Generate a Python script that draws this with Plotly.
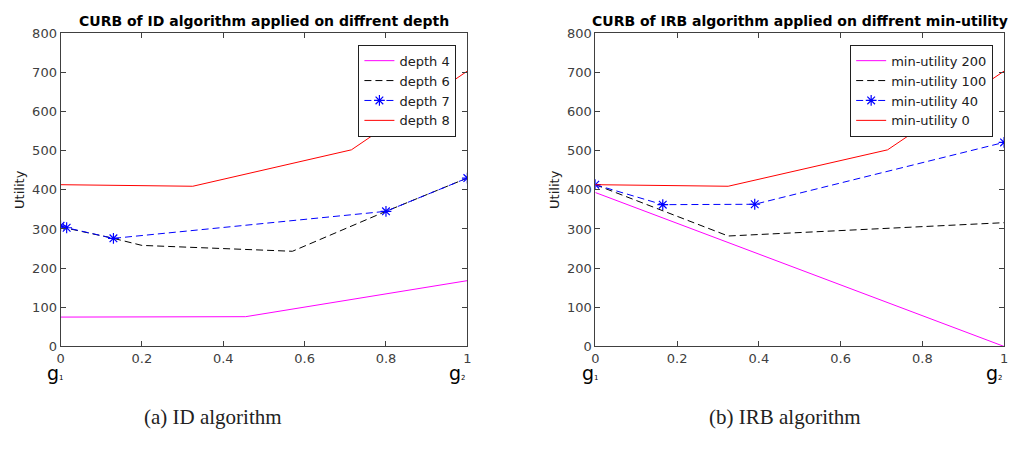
import plotly.graph_objects as go

# Left panel: ID algorithm
d4_x = [0, 0.455, 1]
d4_y = [75, 76, 168]
d6_x = [0, 0.015, 0.13, 0.2, 0.57, 0.8, 1]
d6_y = [308, 302, 276, 258, 243, 345, 430]
d7_x = [0, 0.015, 0.13, 0.8, 1]
d7_y = [308, 303, 276, 345, 430]
d8_x = [0, 0.325, 0.715, 1]
d8_y = [413, 409, 502, 703]

# Right panel: IRB algorithm
m200_x = [0, 1]
m200_y = [393, 0]
m100_x = [0, 0.325, 1]
m100_y = [413, 282, 316]
m40_x = [0, 0.165, 0.39, 1]
m40_y = [413, 362, 363, 521]
m0_x = [0, 0.325, 0.715, 1]
m0_y = [413, 409, 502, 703]

left_names = ["depth 4", "depth 6", "depth 7", "depth 8"]
right_names = ["min-utility 200", "min-utility 100", "min-utility 40", "min-utility 0"]
titles = ["CURB of ID algorithm applied on diffrent depth",
          "CURB of IRB algorithm applied on diffrent min-utility"]
captions = ["(a) ID algorithm", "(b) IRB algorithm"]
yticks = [0, 100, 200, 300, 400, 500, 600, 700, 800]
xticks = [0, 0.2, 0.4, 0.6, 0.8, 1]
xticklabels = ["0", "0.2", "0.4", "0.6", "0.8", "1"]

MAG = "#ff00ff"
BLK = "#000000"
BLU = "#0000ff"
RED = "#ff0000"

W, H = 1018, 456
fig = go.Figure()


def add_set(xs, ys, names, xa, ya, leg):
    styles = [
        dict(line=dict(color=MAG, width=1), mode="lines"),
        dict(line=dict(color=BLK, width=1, dash="7px,4px"), mode="lines"),
        dict(line=dict(color=BLU, width=1, dash="7px,4px"), mode="lines+markers",
             marker=dict(symbol="asterisk-open", size=9, color=BLU, line=dict(color=BLU, width=1.2))),
        dict(line=dict(color=RED, width=1), mode="lines"),
    ]
    for x, y, n, s in zip(xs, ys, names, styles):
        fig.add_trace(go.Scatter(x=x, y=y, name=n, xaxis=xa, yaxis=ya, legend=leg, **s))


add_set([d4_x, d6_x, d7_x, d8_x], [d4_y, d6_y, d7_y, d8_y], left_names, "x", "y", "legend")
add_set([m200_x, m100_x, m40_x, m0_x], [m200_y, m100_y, m40_y, m0_y], right_names, "x2", "y2", "legend2")

ydom = [1 - 351 / H, 1 - 27 / H]
axis_common = dict(showline=True, linecolor="#404040", linewidth=1, mirror="ticks",
                   ticks="inside", ticklen=5, tickcolor="#404040", showgrid=False, zeroline=False,
                   tickfont=dict(family="DejaVu Sans", size=13, color="#404040"))
ytitle = dict(text="Utility", font=dict(family="DejaVu Sans", size=13, color="#202020"), standoff=4)
legfont = dict(family="DejaVu Sans", size=13, color="#202020")

fig.update_layout(
    width=W, height=H, margin=dict(l=0, r=0, t=0, b=0),
    paper_bgcolor="white", plot_bgcolor="white",
    xaxis=dict(domain=[57 / W, 467 / W], range=[0, 1], tickvals=xticks, ticktext=xticklabels,
               anchor="y", **axis_common),
    yaxis=dict(domain=ydom, range=[0, 800], tickvals=yticks, anchor="x", title=ytitle, **axis_common),
    xaxis2=dict(domain=[596 / W, 1008 / W], range=[0, 1], tickvals=xticks, ticktext=xticklabels,
                anchor="y2", **axis_common),
    yaxis2=dict(domain=ydom, range=[0, 800], tickvals=yticks, anchor="x2", title=ytitle, **axis_common),
    legend=dict(x=456 / W, xanchor="right", y=1 - 39 / H, yanchor="top",
                bgcolor="white", bordercolor="#202020", borderwidth=1, font=legfont,
                tracegroupgap=0, itemwidth=30),
    legend2=dict(x=997 / W, xanchor="right", y=1 - 39 / H, yanchor="top",
                 bgcolor="white", bordercolor="#202020", borderwidth=1, font=legfont,
                 tracegroupgap=0, itemwidth=30),
    showlegend=True,
)

for xc, t in zip([262 / W, 802 / W], titles):
    fig.add_annotation(text="<b>" + t + "</b>", x=xc, y=1 - 14 / H, xref="paper", yref="paper",
                       showarrow=False, font=dict(family="DejaVu Sans", size=14, color="black"),
                       xanchor="center", yanchor="middle")
for xc, t in zip([211 / W, 787 / W], captions):
    fig.add_annotation(text=t, x=xc, y=1 - 424 / H, xref="paper", yref="paper", showarrow=False,
                       font=dict(family="Liberation Serif", size=21, color="#222222"),
                       xanchor="center", yanchor="middle")
gy = 1 - 378 / H
for xa in ["x", "x2"]:
    fig.add_annotation(text="g<span style='font-size:7px'>1</span>", x=0, y=gy, xref=xa, yref="paper",
                       yanchor="middle", xanchor="center", xshift=-5,
                       showarrow=False, font=dict(family="DejaVu Sans", size=19, color="black"))
    fig.add_annotation(text="g<span style='font-size:7px'>2</span>", x=1, y=gy, xref=xa, yref="paper",
                       yanchor="middle", xanchor="right", xshift=1,
                       showarrow=False, font=dict(family="DejaVu Sans", size=19, color="black"))

fig.write_html("out.html")
